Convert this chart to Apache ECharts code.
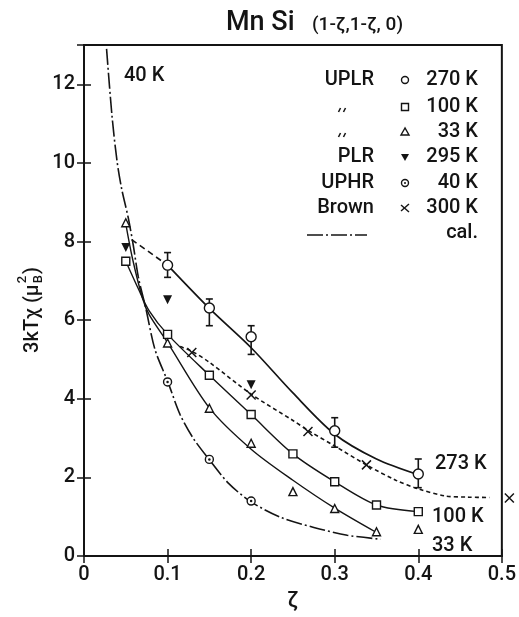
<!DOCTYPE html>
<html><head><meta charset="utf-8">
<script src="https://cdn.jsdelivr.net/npm/echarts@6/dist/echarts.min.js"></script>
<style>html,body{margin:0;padding:0;background:#fff}#c{width:519px;height:617px}</style>
</head><body><div id="c"></div>
<script>
// ---- data ----
const xTicks = [0, 0.1, 0.2, 0.3, 0.4, 0.5];
const yTicks = [0, 2, 4, 6, 8, 10, 12];

// UPLR 270 K : [zeta, value, errLow, errHigh]
const uplr270 = [[0.1,7.40,7.09,7.72],[0.15,6.31,5.86,6.54],[0.2,5.58,5.13,5.86],[0.3,3.19,2.77,3.52],[0.4,2.09,1.74,2.47]];
const uplr100 = [[0.05,7.5],[0.1,5.64],[0.15,4.6],[0.2,3.6],[0.25,2.6],[0.3,1.89],[0.35,1.3],[0.4,1.13]];
const uplr33  = [[0.05,8.48],[0.1,5.42],[0.15,3.76],[0.2,2.87],[0.25,1.64],[0.3,1.21],[0.35,0.62],[0.4,0.68]];
const plr295  = [[0.05,7.85],[0.1,6.52],[0.2,4.36]];
const uphr40  = [[0.1,4.43],[0.15,2.46],[0.2,1.4]];
const brown300 = [[0.129,5.18],[0.2,4.1],[0.268,3.17],[0.338,2.32],[0.509,1.48]];

// curves drawn through the data
const fit273    = [[0.1,7.4],[0.15,6.3],[0.2,5.3],[0.25,4.15],[0.3,3.1],[0.35,2.47],[0.4,2.07]];
const fit273ext = [[0.057,8.05],[0.1,7.4]];
const fit100 = [[0.05,7.5],[0.065,6.8],[0.078,6.24],[0.1,5.64],[0.15,4.6],[0.2,3.6],[0.25,2.6],[0.3,1.89],[0.35,1.3],[0.4,1.13]];
const fit33  = [[0.05,8.45],[0.058,7.57],[0.07,6.56],[0.078,6.14],[0.1,5.43],[0.15,3.77],[0.2,2.72],[0.25,1.93],[0.3,1.22],[0.35,0.6]];
const brownLine = [[0.115,5.33],[0.13,5.2],[0.15,4.93],[0.2,4.12],[0.25,3.45],[0.268,3.2],[0.3,2.8],[0.338,2.32],[0.373,1.93],[0.4,1.71],[0.432,1.53],[0.46,1.5],[0.485,1.49]];
const cal40 = [[0.027,12.9],[0.0335,11.2],[0.0395,10.05],[0.045,9.35],[0.053,8.6],[0.059,7.9],[0.065,7.1],[0.074,6.3],[0.085,5.25],[0.1,4.45],[0.115,3.6],[0.13,3.02],[0.15,2.45],[0.173,1.85],[0.2,1.38],[0.235,0.99],[0.275,0.73],[0.315,0.53],[0.355,0.43]];

// text
const titleMain = 'Mn Si';
const titleSub = '(1-ζ,1-ζ, 0)';
const legendSrc = ['UPLR', '', '', 'PLR', 'UPHR', 'Brown', ''];
const legendTemp = ['270 K', '100 K', '33 K', '295 K', '40 K', '300 K', 'cal.'];
const curveLabels = ['273 K', '100 K', '33 K', '40 K'];

// ---- chart ----
const FONT = 'Roboto';
const FW = '500 ';
const INK = '#141414';
const chart = echarts.init(document.getElementById('c'));

function measure(t, f) {
  const c = document.createElement('canvas').getContext('2d');
  c.font = f; return c.measureText(t).width;
}

const lineBase = {type:'line', showSymbol:false, smooth:0.3, silent:true, z:2};
const scatterBase = {type:'scatter', silent:true, z:5};

// y-axis name group
const yn1 = '3kTχ (μ', ynF = FW + '20px ' + FONT, ynS = FW + '13px ' + FONT;
const w1 = measure(yn1, ynF), wB = measure('B', ynS), wP = measure(')', ynF);
const tot = w1 + wB + 2 + wP;
const st = -tot / 2;

// legend graphics
const LX = 405, rows = [80, 107, 132, 157, 183, 208, 233];
const sym = [];
rows.forEach((y, i) => {
  if (legendSrc[i]) sym.push({type:'text', x:374, y:y, style:{text:legendSrc[i], font:FW + '20px ' + FONT, fill:INK, align:'right', verticalAlign:'middle'}});
  sym.push({type:'text', x: 478, y: y, style:{text:legendTemp[i], font:FW + '20px ' + FONT, fill:INK, align:'right', verticalAlign:'middle'}});
});
// ditto marks
[rows[1], rows[2]].forEach(y => {
  [339, 344].forEach(x => sym.push({type:'line', shape:{x1:x + 1.5, y1:y + 1, x2:x - 0.5, y2:y + 5}, style:{stroke:INK, lineWidth:1.6}}));
});
sym.push({type:'circle', shape:{cx:LX, cy:rows[0], r:3.5}, style:{fill:'#fff', stroke:INK, lineWidth:1.4}});
sym.push({type:'rect', shape:{x:LX-3.5, y:rows[1]-3.5, width:7, height:7}, style:{fill:'#fff', stroke:INK, lineWidth:1.4}});
sym.push({type:'polygon', shape:{points:[[LX,rows[2]-4],[LX-4,rows[2]+3],[LX+4,rows[2]+3]]}, style:{fill:'#fff', stroke:INK, lineWidth:1.4}});
sym.push({type:'polygon', shape:{points:[[LX-4,rows[3]-3],[LX+4,rows[3]-3],[LX,rows[3]+4]]}, style:{fill:INK}});
sym.push({type:'circle', shape:{cx:LX, cy:rows[4], r:3.5}, style:{fill:'#fff', stroke:INK, lineWidth:1.4}});
sym.push({type:'circle', shape:{cx:LX, cy:rows[4], r:1}, style:{fill:INK}});
sym.push({type:'polyline', shape:{points:[[LX-4,rows[5]-3],[LX+4,rows[5]+4]]}, style:{stroke:INK, lineWidth:1.4, fill:null}});
sym.push({type:'polyline', shape:{points:[[LX+4,rows[5]-4],[LX-4,rows[5]+3]]}, style:{stroke:INK, lineWidth:1.4, fill:null}});
sym.push({type:'line', shape:{x1:307, y1:rows[6]+2, x2:367, y2:rows[6]+2}, style:{stroke:INK, lineWidth:1.5, lineDash:[16,3,2,3]}});

const openStyle = {color:'#fff', borderColor:INK, borderWidth:1.4, opacity:1};

const option = {
  backgroundColor:'#fff',
  animation:false,
  grid:{left:84, right:12, top:45, bottom:56, show:true, borderColor:INK, borderWidth:2, backgroundColor:'transparent'},
  xAxis:[
    {type:'value', position:'bottom', min:xTicks[0], max:xTicks[xTicks.length-1], interval:0.1,
     axisLine:{show:true, lineStyle:{color:INK, width:2}},
     axisTick:{inside:true, length:7, lineStyle:{color:INK, width:1.5}},
     axisLabel:{margin:9, fontSize:20, fontWeight:500, fontFamily:FONT, color:INK, formatter:v => v===0 ? '0' : v.toFixed(1)},
     splitLine:{show:false},
     name:'ζ', nameLocation:'middle', nameGap:29, nameTextStyle:{fontSize:22, fontWeight:500, fontFamily:FONT, color:INK}},
    {type:'value', position:'top', min:0, max:0.5, interval:0.1,
     axisLine:{show:true, lineStyle:{color:INK, width:2}},
     axisTick:{inside:true, length:7, lineStyle:{color:INK, width:1.5}},
     axisLabel:{show:false}, splitLine:{show:false}}
  ],
  yAxis:[
    {type:'value', position:'left', min:0, max:13, interval:2,
     axisLine:{show:true, lineStyle:{color:INK, width:2}},
     axisTick:{inside:true, length:7, lineStyle:{color:INK, width:1.5}},
     axisLabel:{margin:9, fontSize:20, fontWeight:500, fontFamily:FONT, color:INK, formatter:v => yTicks.includes(v) ? String(v) : ''},
     splitLine:{show:false}},
    {type:'value', position:'right', min:0, max:13, interval:2,
     axisLine:{show:true, lineStyle:{color:INK, width:2}},
     axisTick:{inside:true, length:7, lineStyle:{color:INK, width:1.5}},
     axisLabel:{show:false}, splitLine:{show:false}}
  ],
  series:[
    Object.assign({}, lineBase, {name:'fit273', data:fit273, lineStyle:{color:INK, width:1.7}}),
    Object.assign({}, lineBase, {name:'fit273ext', data:fit273ext, smooth:false, lineStyle:{color:INK, width:1.6, type:[6,4]}}),
    Object.assign({}, lineBase, {name:'fit100', data:fit100, lineStyle:{color:INK, width:1.4}}),
    Object.assign({}, lineBase, {name:'fit33', data:fit33, lineStyle:{color:INK, width:1.4}}),
    Object.assign({}, lineBase, {name:'brownLine', data:brownLine, lineStyle:{color:INK, width:1.6, type:[4,3]}}),
    Object.assign({}, lineBase, {name:'cal40', data:cal40, lineStyle:{color:INK, width:1.6, type:[16,3,2,3]}}),
    {type:'custom', name:'err270', silent:true, z:4, data:uplr270.map(d => [d[0], d[2], d[3]]), encode:{x:0, y:[1,2]},
     renderItem:(p, api) => {
       const x = api.value(0), lo = api.coord([x, api.value(1)]), hi = api.coord([x, api.value(2)]);
       const w = 3.5, s = {stroke:INK, lineWidth:1.6};
       return {type:'group', children:[
         {type:'line', shape:{x1:lo[0], y1:lo[1], x2:hi[0], y2:hi[1]}, style:s},
         {type:'line', shape:{x1:lo[0]-w, y1:lo[1], x2:lo[0]+w, y2:lo[1]}, style:s},
         {type:'line', shape:{x1:hi[0]-w, y1:hi[1], x2:hi[0]+w, y2:hi[1]}, style:s}
       ]};
     }},
    Object.assign({}, scatterBase, {name:'UPLR 270K', data:uplr270.map(d => [d[0], d[1]]), symbol:'circle', symbolSize:10, itemStyle:openStyle}),
    Object.assign({}, scatterBase, {name:'UPLR 100K', data:uplr100, symbol:'rect', symbolSize:8, itemStyle:openStyle}),
    Object.assign({}, scatterBase, {name:'UPLR 33K', data:uplr33, symbol:'triangle', symbolSize:8, itemStyle:openStyle}),
    Object.assign({}, scatterBase, {name:'PLR 295K', data:plr295, symbol:'triangle', symbolRotate:180, symbolSize:9, itemStyle:{color:INK, opacity:1}}),
    Object.assign({}, scatterBase, {name:'UPHR 40K', data:uphr40, symbol:'circle', symbolSize:8, itemStyle:openStyle}),
    Object.assign({}, scatterBase, {name:'UPHR 40K dot', data:uphr40, symbol:'circle', symbolSize:2.5, z:6, itemStyle:{color:INK, opacity:1}}),
    Object.assign({}, scatterBase, {name:'Brown 300K', data:brown300, clip:false, symbol:'path://M0,0L10,10M10,0L0,10', symbolSize:9, itemStyle:{color:'transparent', borderColor:INK, borderWidth:1.5, opacity:1}})
  ],
  graphic:[
    {type:'text', x:226, y:23, style:{text:titleMain, font:FW + '27px ' + FONT, fill:INK, verticalAlign:'middle'}},
    {type:'text', x:312, y:25, style:{text:titleSub, font:FW + '19px ' + FONT, fill:INK, verticalAlign:'middle'}},
    {type:'group', x:33, y:310, rotation:Math.PI/2, children:[
      {type:'text', x:st, y:0, style:{text:yn1, font:ynF, fill:INK, verticalAlign:'middle'}},
      {type:'text', x:st + w1 + 1, y:6, style:{text:'B', font:ynS, fill:INK, verticalAlign:'middle'}},
      {type:'text', x:st + w1 + 1, y:-10, style:{text:'2', font:ynS, fill:INK, verticalAlign:'middle'}},
      {type:'text', x:st + w1 + wB + 2, y:0, style:{text:')', font:ynF, fill:INK, verticalAlign:'middle'}}
    ]},
    {type:'text', x:435, y:464, style:{text:curveLabels[0], font:FW + '20px ' + FONT, fill:INK, verticalAlign:'middle'}},
    {type:'text', x:432, y:517, style:{text:curveLabels[1], font:FW + '20px ' + FONT, fill:INK, verticalAlign:'middle'}},
    {type:'text', x:432, y:546, style:{text:curveLabels[2], font:FW + '20px ' + FONT, fill:INK, verticalAlign:'middle'}},
    {type:'text', x:124, y:76, style:{text:curveLabels[3], font:FW + '20px ' + FONT, fill:INK, verticalAlign:'middle'}}
  ].concat(sym)
};
chart.setOption(option);
</script>
</body></html>
